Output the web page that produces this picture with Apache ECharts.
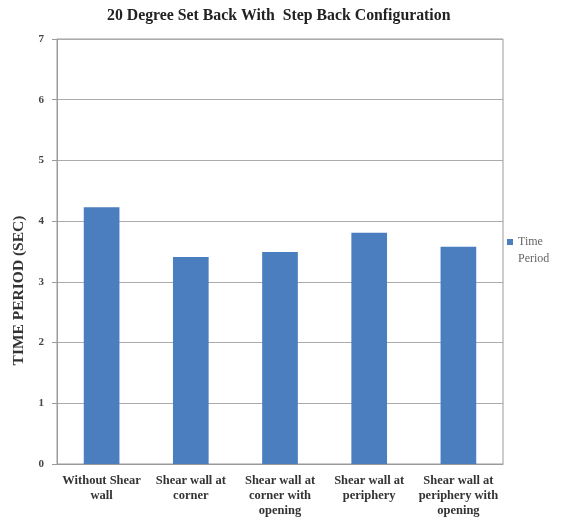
<!DOCTYPE html>
<html>
<head>
<meta charset="utf-8">
<script src="https://cdn.jsdelivr.net/npm/echarts@6/dist/echarts.min.js"></script>
<style>
  html, body { margin: 0; padding: 0; background: #fff; }
  #chart { width: 563px; height: 522px; }
</style>
</head>
<body>
<div id="chart"></div>
<script>
// Fundamental time period for each shear-wall arrangement
const categories = [
  'Without Shear\nwall',
  'Shear wall at\ncorner',
  'Shear wall at\ncorner with\nopening',
  'Shear wall at\nperiphery',
  'Shear wall at\nperiphery with\nopening'
];
const timePeriod = [4.23, 3.41, 3.49, 3.81, 3.58];
const seriesName = 'Time Period';
const chartTitle = '20 Degree Set Back With  Step Back Configuration';
const yAxisTitle = 'TIME PERIOD (SEC)';

const serif = '"Liberation Serif", "Times New Roman", serif';

const chart = echarts.init(document.getElementById('chart'), null, { renderer: 'canvas' });
chart.setOption({
  animation: false,
  backgroundColor: '#ffffff',
  title: {
    text: chartTitle,
    left: 102,
    top: 3,
    textStyle: { fontFamily: serif, fontWeight: 'bold', fontSize: 15.8, color: '#222' }
  },
  legend: {
    left: 502,
    top: 214,
    orient: 'vertical',
    icon: 'rect',
    itemWidth: 6,
    itemHeight: 6,
    itemGap: 4,
    // leading blank line keeps the marker level with the first word
    formatter: () => '{g| }\n{t|Time}\n{t|Period}',
    textStyle: {
      fontFamily: serif,
      fontSize: 12,
      color: '#666',
      rich: {
        g: { lineHeight: 17, fontSize: 12 },
        t: { lineHeight: 17, fontSize: 12, fontFamily: serif, color: '#666' }
      }
    },
    data: [seriesName]
  },
  grid: {
    left: 57,
    right: 60,
    top: 39,
    bottom: 58,
    show: true,
    borderColor: '#9a9a9a',
    borderWidth: 1
  },
  xAxis: {
    type: 'category',
    data: categories,
    axisLine: { lineStyle: { color: '#9a9a9a' } },
    axisTick: { show: false },
    axisLabel: {
      interval: 0,
      margin: 9,
      fontFamily: serif,
      fontWeight: 'bold',
      fontSize: 12.5,
      lineHeight: 15,
      color: '#333'
    }
  },
  yAxis: {
    type: 'value',
    min: 0,
    max: 7,
    interval: 1,
    name: yAxisTitle,
    nameLocation: 'middle',
    nameGap: 30,
    nameTextStyle: {
      fontFamily: serif,
      fontWeight: 'bold',
      fontSize: 15.5,
      color: '#333',
      padding: [0, 78, 0, 0]
    },
    axisLine: { show: true, lineStyle: { color: '#9a9a9a' } },
    axisTick: { show: true, inside: false, length: 5, lineStyle: { color: '#9a9a9a' } },
    axisLabel: { margin: 13, fontFamily: serif, fontWeight: 'bold', fontSize: 11, color: '#444' },
    splitLine: { lineStyle: { color: '#ababab', width: 1 } }
  },
  series: [{
    name: seriesName,
    type: 'bar',
    data: timePeriod,
    barWidth: '40%',
    itemStyle: { color: '#4A7EBF' }
  }]
});
</script>
</body>
</html>
